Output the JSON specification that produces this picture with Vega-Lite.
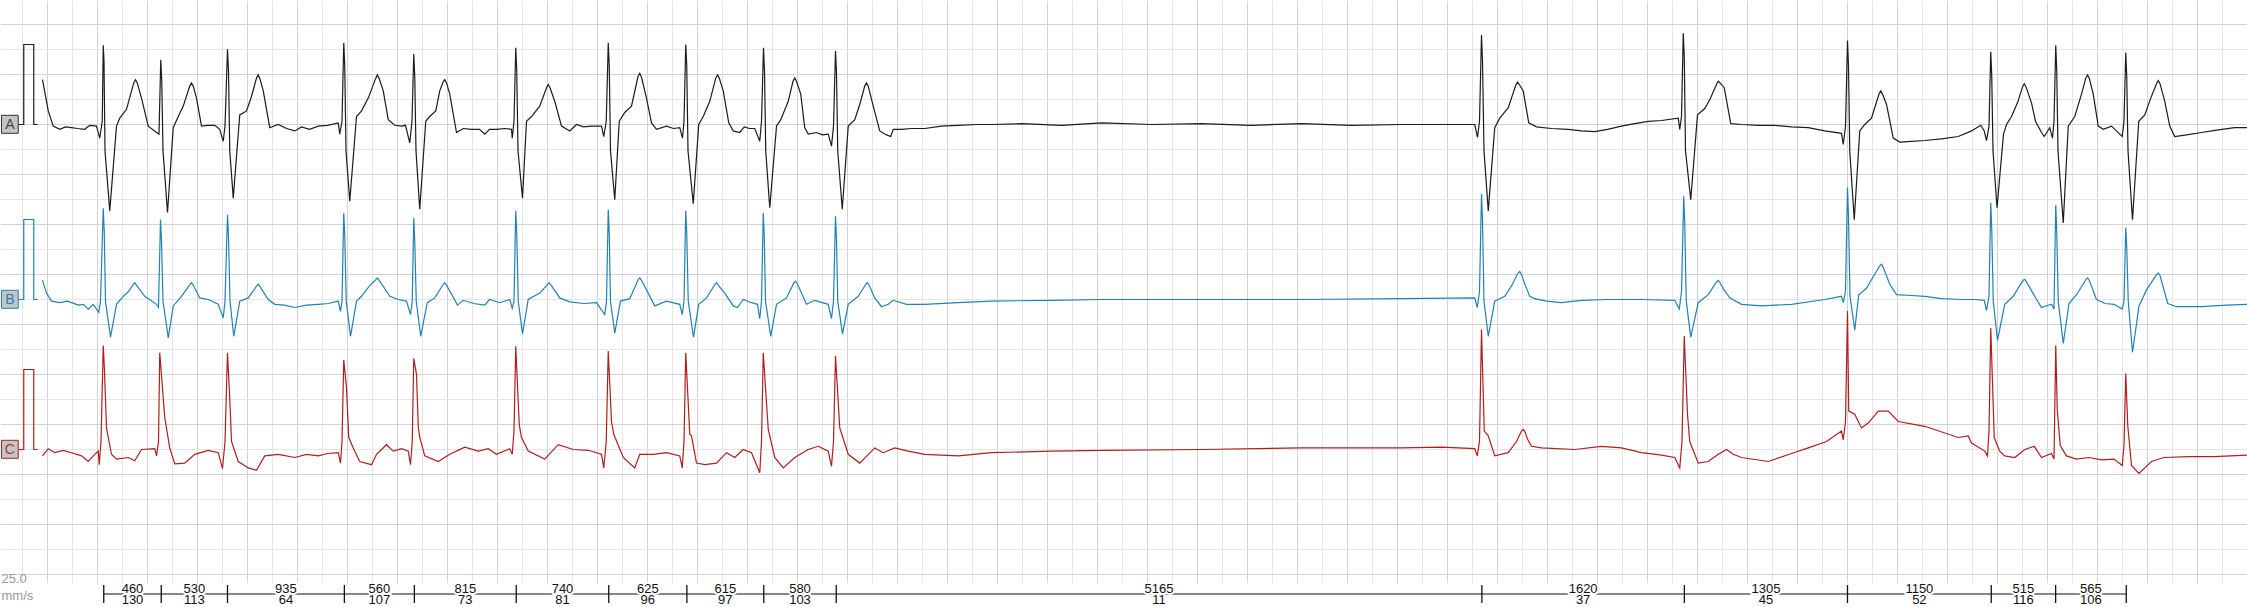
{
"$schema": "https://vega.github.io/schema/vega-lite/v6.json",
"padding": 0,
"spacing": 0,
"bounds": "flush",
"background": "white",
"config": {"view": {"stroke": null}, "font": "Liberation Sans"},
"datasets": {
"gx": [{"g":168,"k":"n"},{"g":568,"k":"n"},{"g":968,"k":"n"},{"g":1368,"k":"n"},{"g":1768,"k":"n"},{"g":2168,"k":"n"},{"g":2568,"k":"n"},{"g":2968,"k":"n"},{"g":3368,"k":"n"},{"g":3768,"k":"n"},{"g":4168,"k":"n"},{"g":4568,"k":"n"},{"g":4968,"k":"n"},{"g":5368,"k":"n"},{"g":5768,"k":"n"},{"g":6168,"k":"n"},{"g":6568,"k":"n"},{"g":6968,"k":"n"},{"g":7368,"k":"n"},{"g":7768,"k":"n"},{"g":8168,"k":"n"},{"g":8568,"k":"n"},{"g":8968,"k":"n"},{"g":9368,"k":"n"},{"g":9768,"k":"n"},{"g":10168,"k":"n"},{"g":10568,"k":"n"},{"g":10968,"k":"n"},{"g":11368,"k":"n"},{"g":11768,"k":"n"},{"g":12168,"k":"n"},{"g":12568,"k":"n"},{"g":12968,"k":"n"},{"g":13368,"k":"n"},{"g":13768,"k":"n"},{"g":14168,"k":"n"},{"g":14568,"k":"n"},{"g":14968,"k":"n"},{"g":15368,"k":"n"},{"g":15768,"k":"n"},{"g":16168,"k":"n"},{"g":16568,"k":"n"},{"g":16968,"k":"n"},{"g":17368,"k":"n"},{"g":17768,"k":"n"},
{"g":368,"k":"M"},{"g":768,"k":"M"},{"g":1168,"k":"M"},{"g":1568,"k":"M"},{"g":1968,"k":"M"},{"g":2368,"k":"M"},{"g":2768,"k":"M"},{"g":3168,"k":"M"},{"g":3568,"k":"M"},{"g":3968,"k":"M"},{"g":4368,"k":"M"},{"g":4768,"k":"M"},{"g":5168,"k":"M"},{"g":5568,"k":"M"},{"g":5968,"k":"M"},{"g":6368,"k":"M"},{"g":6768,"k":"M"},{"g":7168,"k":"M"},{"g":7568,"k":"M"},{"g":7968,"k":"M"},{"g":8368,"k":"M"},{"g":8768,"k":"M"},{"g":9168,"k":"M"},{"g":9568,"k":"M"},{"g":9968,"k":"M"},{"g":10368,"k":"M"},{"g":10768,"k":"M"},{"g":11168,"k":"M"},{"g":11568,"k":"M"},{"g":11968,"k":"M"},{"g":12368,"k":"M"},{"g":12768,"k":"M"},{"g":13168,"k":"M"},{"g":13568,"k":"M"},{"g":13968,"k":"M"},{"g":14368,"k":"M"},{"g":14768,"k":"M"},{"g":15168,"k":"M"},{"g":15568,"k":"M"},{"g":15968,"k":"M"},{"g":16368,"k":"M"},{"g":16768,"k":"M"},{"g":17168,"k":"M"},{"g":17568,"k":"M"},{"g":17968,"k":"M"}],
"gy": [{"g":0.9375,"k":"n"},{"g":0.3125,"k":"n"},{"g":-0.3125,"k":"n"},{"g":-0.9375,"k":"n"},{"g":-1.5625,"k":"n"},{"g":-2.1875,"k":"n"},{"g":-2.8125,"k":"n"},{"g":-3.4375,"k":"n"},{"g":-4.0625,"k":"n"},{"g":-4.6875,"k":"n"},{"g":-5.3125,"k":"n"},
{"g":1.25,"k":"M"},{"g":0.625,"k":"M"},{"g":0,"k":"M"},{"g":-0.625,"k":"M"},{"g":-1.25,"k":"M"},{"g":-1.875,"k":"M"},{"g":-2.5,"k":"M"},{"g":-3.125,"k":"M"},{"g":-3.75,"k":"M"},{"g":-4.375,"k":"M"},{"g":-5,"k":"M"},{"g":-5.625,"k":"M"}],
"A": [{"t":140,"v":0,"s":"c"},{"t":178,"v":0,"s":"c"},{"t":178,"v":1,"s":"c"},{"t":258,"v":1,"s":"c"},{"t":258,"v":0,"s":"c"},{"t":288,"v":0,"s":"c"},
{"t":328,"v":0.56},{"t":374,"v":0.17},{"t":414,"v":-0.02},{"t":466,"v":-0.06},{"t":512,"v":-0.03},{"t":560,"v":-0.04},{"t":608,"v":-0.05},{"t":666,"v":-0.06},{"t":706,"v":-0.01},{"t":760,"v":-0.02},{"t":786,"v":-0.17},{"t":806,"v":0.04},{"t":814,"v":0.99},{"t":820,"v":0.79},{"t":828,"v":-0.33},{"t":866,"v":-1.08},{"t":920,"v":-0.02},{"t":946,"v":0.08},{"t":1000,"v":0.19},{"t":1058,"v":0.52},{"t":1072,"v":0.56},{"t":1086,"v":0.52},{"t":1120,"v":0.33},{"t":1174,"v":-0.02},{"t":1240,"v":-0.1},{"t":1260,"v":-0.12},
{"t":1274,"v":0.81},{"t":1282,"v":0.54},{"t":1292,"v":-0.33},{"t":1328,"v":-1.1},{"t":1374,"v":-0.04},{"t":1414,"v":0.1},{"t":1454,"v":0.23},{"t":1506,"v":0.48},{"t":1520,"v":0.52},{"t":1534,"v":0.48},{"t":1560,"v":0.33},{"t":1600,"v":-0.02},{"t":1648,"v":-0.01},{"t":1706,"v":-0.01},{"t":1746,"v":-0.06},{"t":1774,"v":-0.21},{"t":1788,"v":-0.02},
{"t":1808,"v":0.94},{"t":1816,"v":0.67},{"t":1826,"v":-0.33},{"t":1854,"v":-0.92},{"t":1906,"v":0.12},{"t":1960,"v":0.17},{"t":2000,"v":0.35},{"t":2040,"v":0.58},{"t":2054,"v":0.62},{"t":2068,"v":0.57},{"t":2094,"v":0.42},{"t":2146,"v":-0.04},{"t":2214,"v":0},{"t":2280,"v":-0.05},{"t":2346,"v":-0.08},{"t":2400,"v":-0.03},{"t":2464,"v":-0.06},{"t":2534,"v":-0.02},{"t":2608,"v":-0.01},{"t":2694,"v":0.02},{"t":2706,"v":-0.12},{"t":2724,"v":0.04},
{"t":2738,"v":1.02},{"t":2746,"v":0.73},{"t":2756,"v":-0.33},{"t":2786,"v":-0.96},{"t":2840,"v":0.1},{"t":2880,"v":0.17},{"t":2934,"v":0.33},{"t":2992,"v":0.57},{"t":3006,"v":0.62},{"t":3020,"v":0.58},{"t":3054,"v":0.42},{"t":3094,"v":0.06},{"t":3146,"v":-0.01},{"t":3200,"v":-0.02},{"t":3232,"v":-0.01},{"t":3266,"v":-0.23},{"t":3284,"v":0.04},
{"t":3298,"v":0.88},{"t":3306,"v":0.6},{"t":3316,"v":-0.33},{"t":3346,"v":-1.06},{"t":3394,"v":0.04},{"t":3426,"v":0.1},{"t":3474,"v":0.17},{"t":3506,"v":0.42},{"t":3532,"v":0.53},{"t":3546,"v":0.56},{"t":3560,"v":0.52},{"t":3586,"v":0.38},{"t":3640,"v":-0.1},{"t":3694,"v":-0.05},{"t":3760,"v":-0.06},{"t":3824,"v":-0.06},{"t":3866,"v":-0.12},{"t":3904,"v":-0.06},{"t":3960,"v":-0.06},{"t":4024,"v":-0.05},{"t":4080,"v":-0.06},{"t":4086,"v":-0.17},{"t":4100,"v":0.04},
{"t":4114,"v":0.96},{"t":4122,"v":0.67},{"t":4132,"v":-0.33},{"t":4168,"v":-0.92},{"t":4200,"v":0.04},{"t":4240,"v":0.1},{"t":4306,"v":0.23},{"t":4360,"v":0.46},{"t":4374,"v":0.5},{"t":4388,"v":0.46},{"t":4426,"v":0.29},{"t":4480,"v":-0.02},{"t":4546,"v":-0.08},{"t":4600,"v":0},{"t":4656,"v":-0.03},{"t":4720,"v":-0.02},{"t":4800,"v":-0.02},{"t":4818,"v":-0.15},{"t":4838,"v":0.04},
{"t":4854,"v":1.02},{"t":4862,"v":0.73},{"t":4872,"v":-0.33},{"t":4906,"v":-0.94},{"t":4942,"v":0.04},{"t":4986,"v":0.15},{"t":5040,"v":0.23},{"t":5092,"v":0.6},{"t":5106,"v":0.64},{"t":5120,"v":0.59},{"t":5160,"v":0.33},{"t":5200,"v":0.02},{"t":5240,"v":-0.06},{"t":5320,"v":-0.02},{"t":5376,"v":-0.05},{"t":5426,"v":-0.04},{"t":5448,"v":-0.17},{"t":5460,"v":0.04},
{"t":5474,"v":1.0},{"t":5482,"v":0.73},{"t":5492,"v":-0.33},{"t":5534,"v":-0.99},{"t":5578,"v":0},{"t":5614,"v":0.1},{"t":5666,"v":0.29},{"t":5714,"v":0.58},{"t":5728,"v":0.62},{"t":5742,"v":0.58},{"t":5774,"v":0.42},{"t":5818,"v":0.02},{"t":5854,"v":-0.08},{"t":5906,"v":-0.1},{"t":5942,"v":-0.03},{"t":5984,"v":-0.05},{"t":6026,"v":-0.05},{"t":6066,"v":-0.21},{"t":6080,"v":0.04},
{"t":6096,"v":0.96},{"t":6104,"v":0.67},{"t":6114,"v":-0.33},{"t":6146,"v":-1.04},{"t":6200,"v":-0.02},{"t":6234,"v":0.06},{"t":6294,"v":0.29},{"t":6332,"v":0.54},{"t":6346,"v":0.58},{"t":6360,"v":0.54},{"t":6394,"v":0.38},{"t":6426,"v":-0.04},{"t":6454,"v":-0.12},{"t":6520,"v":-0.1},{"t":6568,"v":-0.13},{"t":6614,"v":-0.12},{"t":6640,"v":-0.27},{"t":6656,"v":-0.02},
{"t":6672,"v":0.92},{"t":6680,"v":0.64},{"t":6690,"v":-0.33},{"t":6726,"v":-1.06},{"t":6774,"v":-0.02},{"t":6826,"v":0.06},{"t":6866,"v":0.25},{"t":6906,"v":0.48},{"t":6920,"v":0.52},{"t":6934,"v":0.48},{"t":6974,"v":0.23},{"t":7026,"v":-0.08},{"t":7080,"v":-0.13},{"t":7114,"v":-0.15},{"t":7134,"v":-0.06},{"t":7200,"v":-0.06},{"t":7280,"v":-0.05},{"t":7386,"v":-0.05},{"t":7520,"v":-0.02},{"t":7654,"v":-0.01},{"t":7800,"v":0},{"t":7920,"v":0},{"t":8160,"v":0.01},{"t":8480,"v":-0.01},{"t":8800,"v":0.02},{"t":9200,"v":0},{"t":9600,"v":0.01},{"t":10000,"v":-0.01},{"t":10400,"v":0.01},{"t":10800,"v":-0.01},{"t":11200,"v":0},{"t":11520,"v":0},{"t":11786,"v":0},{"t":11808,"v":-0.16},{"t":11824,"v":0.04},
{"t":11840,"v":1.12},{"t":11848,"v":0.79},{"t":11860,"v":-0.33},{"t":11894,"v":-1.08},{"t":11946,"v":-0.04},{"t":11986,"v":0.08},{"t":12054,"v":0.21},{"t":12114,"v":0.49},{"t":12128,"v":0.53},{"t":12142,"v":0.5},{"t":12174,"v":0.42},{"t":12218,"v":0.02},{"t":12280,"v":-0.03},{"t":12400,"v":-0.05},{"t":12534,"v":-0.06},{"t":12640,"v":-0.08},{"t":12746,"v":-0.09},{"t":12848,"v":-0.06},{"t":12960,"v":-0.02},{"t":13064,"v":0.01},{"t":13174,"v":0.04},{"t":13280,"v":0.05},{"t":13414,"v":0.08},{"t":13426,"v":-0.06},{"t":13440,"v":0.1},
{"t":13454,"v":1.14},{"t":13462,"v":0.85},{"t":13472,"v":-0.33},{"t":13514,"v":-0.94},{"t":13568,"v":0.12},{"t":13626,"v":0.2},{"t":13666,"v":0.31},{"t":13720,"v":0.5},{"t":13734,"v":0.54},{"t":13748,"v":0.52},{"t":13782,"v":0.46},{"t":13834,"v":0.01},{"t":13920,"v":0},{"t":14056,"v":-0.01},{"t":14186,"v":-0.01},{"t":14320,"v":-0.03},{"t":14454,"v":-0.04},{"t":14586,"v":-0.08},{"t":14720,"v":-0.11},{"t":14734,"v":-0.25},{"t":14752,"v":-0.02},
{"t":14768,"v":1.05},{"t":14776,"v":0.73},{"t":14786,"v":-0.33},{"t":14822,"v":-1.19},{"t":14866,"v":-0.08},{"t":14906,"v":0},{"t":14960,"v":0.08},{"t":15020,"v":0.38},{"t":15034,"v":0.42},{"t":15048,"v":0.38},{"t":15080,"v":0.25},{"t":15134,"v":-0.17},{"t":15186,"v":-0.22},{"t":15280,"v":-0.21},{"t":15386,"v":-0.2},{"t":15520,"v":-0.18},{"t":15654,"v":-0.15},{"t":15760,"v":-0.08},{"t":15834,"v":-0.01},{"t":15862,"v":-0.08},{"t":15880,"v":-0.2},{"t":15900,"v":-0.02},
{"t":15914,"v":0.91},{"t":15922,"v":0.6},{"t":15932,"v":-0.33},{"t":15964,"v":-1.04},{"t":16016,"v":-0.12},{"t":16040,"v":0},{"t":16080,"v":0.1},{"t":16130,"v":0.28},{"t":16168,"v":0.47},{"t":16182,"v":0.51},{"t":16196,"v":0.47},{"t":16240,"v":0.27},{"t":16272,"v":0.04},{"t":16320,"v":-0.1},{"t":16342,"v":-0.15},{"t":16386,"v":-0.04},{"t":16408,"v":-0.17},{"t":16420,"v":0.04},
{"t":16434,"v":0.99},{"t":16442,"v":0.67},{"t":16452,"v":-0.33},{"t":16494,"v":-1.23},{"t":16534,"v":-0.02},{"t":16586,"v":0.1},{"t":16640,"v":0.38},{"t":16674,"v":0.58},{"t":16688,"v":0.62},{"t":16702,"v":0.58},{"t":16734,"v":0.38},{"t":16774,"v":-0.02},{"t":16814,"v":-0.06},{"t":16880,"v":-0.02},{"t":16946,"v":-0.12},{"t":16966,"v":-0.15},{"t":16980,"v":0.04},
{"t":16994,"v":0.9},{"t":17002,"v":0.6},{"t":17012,"v":-0.33},{"t":17048,"v":-1.19},{"t":17098,"v":0.04},{"t":17146,"v":0.12},{"t":17194,"v":0.33},{"t":17240,"v":0.51},{"t":17254,"v":0.55},{"t":17268,"v":0.51},{"t":17306,"v":0.29},{"t":17346,"v":-0.02},{"t":17386,"v":-0.15},{"t":17480,"v":-0.13},{"t":17600,"v":-0.1},{"t":17720,"v":-0.07},{"t":17866,"v":-0.04},{"t":17976,"v":-0.04}],
"B": [{"t":140,"v":0,"s":"c"},{"t":178,"v":0,"s":"c"},{"t":178,"v":1,"s":"c"},{"t":258,"v":1,"s":"c"},{"t":258,"v":0,"s":"c"},{"t":288,"v":0,"s":"c"},
{"t":328,"v":0.24},{"t":360,"v":0.08},{"t":400,"v":-0.02},{"t":466,"v":-0.04},{"t":528,"v":-0.02},{"t":614,"v":-0.07},{"t":656,"v":-0.06},{"t":694,"v":-0.12},{"t":734,"v":-0.06},{"t":778,"v":-0.16},{"t":792,"v":-0.02},{"t":814,"v":1.14},{"t":822,"v":0.85},{"t":832,"v":-0.02},{"t":872,"v":-0.47},{"t":920,"v":-0.06},{"t":974,"v":0.04},{"t":1016,"v":0.1},{"t":1054,"v":0.19},{"t":1066,"v":0.21},{"t":1080,"v":0.18},{"t":1146,"v":0.04},{"t":1240,"v":-0.06},{"t":1256,"v":-0.1},
{"t":1272,"v":1.0},{"t":1280,"v":0.73},{"t":1292,"v":-0.02},{"t":1334,"v":-0.48},{"t":1374,"v":-0.08},{"t":1440,"v":0.04},{"t":1508,"v":0.19},{"t":1520,"v":0.21},{"t":1534,"v":0.18},{"t":1586,"v":0.02},{"t":1654,"v":0},{"t":1734,"v":-0.06},{"t":1774,"v":-0.23},{"t":1788,"v":-0.02},
{"t":1808,"v":1.06},{"t":1816,"v":0.79},{"t":1828,"v":-0.02},{"t":1858,"v":-0.46},{"t":1906,"v":-0.02},{"t":1974,"v":0.02},{"t":2042,"v":0.17},{"t":2054,"v":0.19},{"t":2068,"v":0.16},{"t":2134,"v":0},{"t":2186,"v":-0.06},{"t":2264,"v":-0.07},{"t":2346,"v":-0.1},{"t":2440,"v":-0.07},{"t":2534,"v":-0.06},{"t":2616,"v":-0.05},{"t":2694,"v":-0.02},{"t":2712,"v":-0.15},{"t":2724,"v":-0.02},
{"t":2738,"v":1.08},{"t":2746,"v":0.79},{"t":2758,"v":-0.02},{"t":2792,"v":-0.46},{"t":2840,"v":-0.02},{"t":2880,"v":0.04},{"t":2944,"v":0.17},{"t":2996,"v":0.25},{"t":3008,"v":0.27},{"t":3022,"v":0.24},{"t":3106,"v":0.04},{"t":3174,"v":0},{"t":3240,"v":-0.02},{"t":3272,"v":-0.19},{"t":3286,"v":-0.02},
{"t":3298,"v":1.02},{"t":3306,"v":0.73},{"t":3318,"v":-0.02},{"t":3354,"v":-0.46},{"t":3406,"v":-0.04},{"t":3466,"v":0.02},{"t":3534,"v":0.19},{"t":3546,"v":0.21},{"t":3560,"v":0.18},{"t":3648,"v":-0.07},{"t":3694,"v":-0.01},{"t":3776,"v":-0.05},{"t":3866,"v":-0.07},{"t":3904,"v":0},{"t":3986,"v":-0.04},{"t":4066,"v":0},{"t":4086,"v":-0.11},{"t":4100,"v":-0.02},
{"t":4114,"v":1.11},{"t":4122,"v":0.83},{"t":4134,"v":-0.02},{"t":4168,"v":-0.43},{"t":4214,"v":0},{"t":4306,"v":0.08},{"t":4370,"v":0.19},{"t":4382,"v":0.21},{"t":4396,"v":0.18},{"t":4466,"v":0.02},{"t":4546,"v":-0.03},{"t":4656,"v":-0.05},{"t":4760,"v":-0.04},{"t":4826,"v":-0.19},{"t":4840,"v":-0.02},
{"t":4854,"v":1.12},{"t":4862,"v":0.83},{"t":4872,"v":-0.02},{"t":4906,"v":-0.42},{"t":4952,"v":-0.02},{"t":5026,"v":0.01},{"t":5094,"v":0.25},{"t":5106,"v":0.27},{"t":5120,"v":0.24},{"t":5226,"v":-0.08},{"t":5320,"v":-0.02},{"t":5426,"v":-0.06},{"t":5446,"v":-0.19},{"t":5460,"v":-0.02},
{"t":5474,"v":1.11},{"t":5482,"v":0.83},{"t":5494,"v":-0.02},{"t":5536,"v":-0.47},{"t":5578,"v":-0.06},{"t":5640,"v":0.02},{"t":5708,"v":0.19},{"t":5720,"v":0.21},{"t":5734,"v":0.18},{"t":5786,"v":0.08},{"t":5854,"v":-0.08},{"t":5888,"v":-0.1},{"t":5934,"v":0},{"t":6000,"v":-0.04},{"t":6048,"v":-0.06},{"t":6066,"v":-0.24},{"t":6080,"v":-0.02},
{"t":6094,"v":1.08},{"t":6102,"v":0.79},{"t":6112,"v":-0.02},{"t":6154,"v":-0.46},{"t":6200,"v":-0.06},{"t":6280,"v":0.02},{"t":6340,"v":0.21},{"t":6352,"v":0.23},{"t":6366,"v":0.2},{"t":6440,"v":-0.06},{"t":6506,"v":-0.01},{"t":6614,"v":-0.06},{"t":6640,"v":-0.24},{"t":6656,"v":-0.02},
{"t":6672,"v":1.04},{"t":6680,"v":0.75},{"t":6690,"v":-0.02},{"t":6728,"v":-0.43},{"t":6774,"v":-0.06},{"t":6854,"v":0.04},{"t":6914,"v":0.19},{"t":6926,"v":0.21},{"t":6940,"v":0.18},{"t":6986,"v":0.02},{"t":7040,"v":-0.09},{"t":7094,"v":-0.06},{"t":7134,"v":-0.01},{"t":7240,"v":-0.06},{"t":7386,"v":-0.06},{"t":7654,"v":-0.04},{"t":7920,"v":-0.02},{"t":8400,"v":-0.01},{"t":8800,"v":0},{"t":9600,"v":0},{"t":10400,"v":0},{"t":11200,"v":0.01},{"t":11786,"v":0.02},{"t":11806,"v":-0.1},{"t":11824,"v":0.1},
{"t":11840,"v":1.32},{"t":11848,"v":0.98},{"t":11860,"v":-0.02},{"t":11894,"v":-0.46},{"t":11946,"v":-0.02},{"t":12026,"v":0.04},{"t":12080,"v":0.17},{"t":12132,"v":0.33},{"t":12146,"v":0.35},{"t":12160,"v":0.31},{"t":12192,"v":0.17},{"t":12226,"v":0.04},{"t":12266,"v":0.01},{"t":12360,"v":-0.02},{"t":12480,"v":-0.04},{"t":12640,"v":-0.01},{"t":12854,"v":0},{"t":13120,"v":0},{"t":13386,"v":-0.01},{"t":13422,"v":-0.12},{"t":13440,"v":0.1},
{"t":13458,"v":1.29},{"t":13466,"v":0.95},{"t":13478,"v":-0.02},{"t":13514,"v":-0.47},{"t":13574,"v":-0.04},{"t":13654,"v":0.06},{"t":13720,"v":0.22},{"t":13734,"v":0.24},{"t":13748,"v":0.21},{"t":13776,"v":0.13},{"t":13826,"v":0.02},{"t":13920,"v":-0.06},{"t":14080,"v":-0.08},{"t":14320,"v":-0.06},{"t":14586,"v":0},{"t":14720,"v":0.04},{"t":14734,"v":-0.04},{"t":14752,"v":0.1},
{"t":14768,"v":1.4},{"t":14776,"v":1.04},{"t":14788,"v":0.04},{"t":14826,"v":-0.38},{"t":14858,"v":0.06},{"t":14920,"v":0.14},{"t":14976,"v":0.29},{"t":15026,"v":0.42},{"t":15040,"v":0.44},{"t":15054,"v":0.4},{"t":15106,"v":0.19},{"t":15160,"v":0.06},{"t":15280,"v":0.05},{"t":15386,"v":0.04},{"t":15520,"v":0.01},{"t":15680,"v":0},{"t":15786,"v":0},{"t":15862,"v":-0.01},{"t":15880,"v":-0.14},{"t":15900,"v":0.04},
{"t":15914,"v":1.21},{"t":15922,"v":0.88},{"t":15934,"v":-0.02},{"t":15968,"v":-0.51},{"t":16026,"v":-0.06},{"t":16094,"v":0.04},{"t":16144,"v":0.17},{"t":16174,"v":0.24},{"t":16186,"v":0.25},{"t":16200,"v":0.22},{"t":16266,"v":0.04},{"t":16320,"v":-0.1},{"t":16400,"v":-0.06},{"t":16420,"v":-0.12},
{"t":16434,"v":1.18},{"t":16442,"v":0.85},{"t":16454,"v":-0.02},{"t":16494,"v":-0.55},{"t":16540,"v":-0.05},{"t":16600,"v":0.06},{"t":16676,"v":0.25},{"t":16688,"v":0.27},{"t":16702,"v":0.24},{"t":16760,"v":0.0},{"t":16830,"v":-0.05},{"t":16900,"v":-0.06},{"t":16966,"v":-0.12},{"t":16980,"v":-0.02},
{"t":16994,"v":0.9},{"t":17002,"v":0.65},{"t":17014,"v":-0.02},{"t":17048,"v":-0.66},{"t":17100,"v":-0.08},{"t":17160,"v":0.12},{"t":17240,"v":0.31},{"t":17254,"v":0.33},{"t":17268,"v":0.3},{"t":17330,"v":-0.05},{"t":17400,"v":-0.09},{"t":17600,"v":-0.09},{"t":17800,"v":-0.07},{"t":17976,"v":-0.06}],
"C": [{"t":140,"v":0,"s":"c"},{"t":178,"v":0,"s":"c"},{"t":178,"v":1,"s":"c"},{"t":258,"v":1,"s":"c"},{"t":258,"v":0,"s":"c"},{"t":288,"v":0,"s":"c"},
{"t":328,"v":-0.08},{"t":374,"v":0.01},{"t":426,"v":-0.04},{"t":494,"v":-0.01},{"t":560,"v":-0.04},{"t":640,"v":-0.08},{"t":694,"v":-0.15},{"t":734,"v":-0.08},{"t":774,"v":-0.02},{"t":782,"v":-0.19},{"t":796,"v":0.1},{"t":814,"v":1.3},{"t":824,"v":0.98},{"t":840,"v":0.27},{"t":854,"v":0.15},{"t":880,"v":-0.06},{"t":920,"v":-0.12},{"t":1014,"v":-0.1},{"t":1066,"v":-0.14},{"t":1120,"v":0},{"t":1226,"v":0.01},{"t":1240,"v":-0.08},{"t":1256,"v":0.1},
{"t":1266,"v":1.21},{"t":1294,"v":0.64},{"t":1306,"v":0.4},{"t":1346,"v":0.02},{"t":1386,"v":-0.18},{"t":1466,"v":-0.17},{"t":1546,"v":-0.06},{"t":1654,"v":-0.01},{"t":1734,"v":-0.04},{"t":1768,"v":-0.24},{"t":1788,"v":0.1},
{"t":1808,"v":1.21},{"t":1826,"v":0.64},{"t":1840,"v":0.1},{"t":1894,"v":-0.15},{"t":1974,"v":-0.23},{"t":2040,"v":-0.26},{"t":2106,"v":-0.08},{"t":2214,"v":-0.06},{"t":2346,"v":-0.1},{"t":2440,"v":-0.06},{"t":2534,"v":-0.08},{"t":2608,"v":-0.05},{"t":2694,"v":-0.04},{"t":2712,"v":-0.17},{"t":2724,"v":0.1},
{"t":2738,"v":1.12},{"t":2760,"v":0.77},{"t":2778,"v":0.15},{"t":2814,"v":0.02},{"t":2866,"v":-0.15},{"t":2960,"v":-0.19},{"t":3000,"v":-0.06},{"t":3080,"v":0.06},{"t":3134,"v":-0.02},{"t":3200,"v":0.01},{"t":3254,"v":-0.02},{"t":3272,"v":-0.19},{"t":3286,"v":0.1},
{"t":3298,"v":1.14},{"t":3320,"v":0.94},{"t":3334,"v":0.29},{"t":3346,"v":0.15},{"t":3386,"v":-0.08},{"t":3494,"v":-0.15},{"t":3586,"v":-0.06},{"t":3706,"v":0.03},{"t":3814,"v":-0.02},{"t":3894,"v":0.01},{"t":3960,"v":-0.06},{"t":4066,"v":0.01},{"t":4086,"v":-0.06},{"t":4100,"v":0.23},
{"t":4114,"v":1.29},{"t":4142,"v":0.31},{"t":4160,"v":0.15},{"t":4214,"v":-0.02},{"t":4346,"v":-0.12},{"t":4454,"v":0.06},{"t":4574,"v":0},{"t":4694,"v":-0.01},{"t":4800,"v":-0.06},{"t":4818,"v":-0.23},{"t":4838,"v":0.1},
{"t":4854,"v":1.23},{"t":4880,"v":0.35},{"t":4898,"v":0.19},{"t":4974,"v":-0.1},{"t":5066,"v":-0.23},{"t":5106,"v":-0.06},{"t":5214,"v":-0.06},{"t":5320,"v":-0.04},{"t":5426,"v":-0.08},{"t":5446,"v":-0.23},{"t":5460,"v":0.1},
{"t":5474,"v":1.21},{"t":5506,"v":0.19},{"t":5520,"v":0.17},{"t":5560,"v":-0.17},{"t":5626,"v":-0.19},{"t":5720,"v":-0.17},{"t":5800,"v":-0.04},{"t":5866,"v":-0.1},{"t":5934,"v":0},{"t":6000,"v":-0.04},{"t":6066,"v":-0.29},{"t":6080,"v":0.1},
{"t":6094,"v":1.21},{"t":6134,"v":0.25},{"t":6186,"v":-0.1},{"t":6254,"v":-0.23},{"t":6346,"v":-0.1},{"t":6454,"v":0},{"t":6534,"v":0.04},{"t":6614,"v":-0.02},{"t":6640,"v":-0.21},{"t":6656,"v":0.1},
{"t":6672,"v":1.17},{"t":6706,"v":0.27},{"t":6774,"v":-0.06},{"t":6866,"v":-0.17},{"t":6986,"v":0.02},{"t":7054,"v":-0.04},{"t":7146,"v":0.02},{"t":7254,"v":-0.02},{"t":7386,"v":-0.06},{"t":7654,"v":-0.08},{"t":7920,"v":-0.04},{"t":8400,"v":-0.02},{"t":8800,"v":-0.01},{"t":9600,"v":0},{"t":10400,"v":0.02},{"t":11200,"v":0.02},{"t":11520,"v":0.03},{"t":11786,"v":0.01},{"t":11806,"v":-0.08},{"t":11824,"v":0.1},
{"t":11840,"v":1.5},{"t":11862,"v":0.23},{"t":11894,"v":0.17},{"t":11946,"v":-0.08},{"t":12054,"v":-0.04},{"t":12120,"v":0.1},{"t":12160,"v":0.23},{"t":12174,"v":0.25},{"t":12188,"v":0.22},{"t":12208,"v":0.13},{"t":12240,"v":0.04},{"t":12320,"v":0.02},{"t":12586,"v":0},{"t":12800,"v":0.04},{"t":12960,"v":0.02},{"t":13120,"v":-0.04},{"t":13280,"v":-0.07},{"t":13386,"v":-0.1},{"t":13426,"v":-0.23},{"t":13444,"v":0.1},
{"t":13462,"v":1.42},{"t":13488,"v":0.44},{"t":13506,"v":0.1},{"t":13574,"v":-0.17},{"t":13654,"v":-0.15},{"t":13734,"v":-0.06},{"t":13800,"v":0},{"t":13854,"v":-0.06},{"t":13920,"v":-0.1},{"t":14134,"v":-0.15},{"t":14320,"v":-0.05},{"t":14454,"v":0.02},{"t":14600,"v":0.1},{"t":14720,"v":0.23},{"t":14734,"v":0.12},{"t":14752,"v":0.35},
{"t":14768,"v":1.73},{"t":14778,"v":0.48},{"t":14826,"v":0.44},{"t":14880,"v":0.27},{"t":14934,"v":0.33},{"t":15014,"v":0.48},{"t":15094,"v":0.48},{"t":15174,"v":0.35},{"t":15386,"v":0.29},{"t":15654,"v":0.15},{"t":15734,"v":0.17},{"t":15760,"v":0.08},{"t":15866,"v":-0.02},{"t":15888,"v":-0.08},{"t":15900,"v":0.23},
{"t":15914,"v":1.52},{"t":15942,"v":0.15},{"t":15986,"v":-0.02},{"t":16026,"v":-0.08},{"t":16106,"v":-0.1},{"t":16186,"v":0},{"t":16262,"v":0.04},{"t":16320,"v":-0.1},{"t":16400,"v":-0.05},{"t":16420,"v":-0.12},
{"t":16434,"v":1.3},{"t":16446,"v":0.5},{"t":16470,"v":0.05},{"t":16520,"v":-0.08},{"t":16600,"v":-0.12},{"t":16700,"v":-0.1},{"t":16800,"v":-0.13},{"t":16900,"v":-0.12},{"t":16966,"v":-0.2},{"t":16980,"v":0.05},
{"t":16994,"v":0.95},{"t":17010,"v":0.3},{"t":17040,"v":-0.2},{"t":17100,"v":-0.3},{"t":17200,"v":-0.15},{"t":17300,"v":-0.1},{"t":17500,"v":-0.09},{"t":17700,"v":-0.09},{"t":17976,"v":-0.07}],
"iv": [{"t0":818,"t1":1278,"mid":1048,"ms":"460","bpm":"130"},{"t0":1278,"t1":1808,"mid":1543,"ms":"530","bpm":"113"},{"t0":1808,"t1":2743,"mid":2275.5,"ms":"935","bpm":"64"},{"t0":2743,"t1":3303,"mid":3023,"ms":"560","bpm":"107"},{"t0":3303,"t1":4118,"mid":3710.5,"ms":"815","bpm":"73"},{"t0":4118,"t1":4858,"mid":4488,"ms":"740","bpm":"81"},{"t0":4858,"t1":5483,"mid":5170.5,"ms":"625","bpm":"96"},{"t0":5483,"t1":6098,"mid":5790.5,"ms":"615","bpm":"97"},{"t0":6098,"t1":6678,"mid":6388,"ms":"580","bpm":"103"},{"t0":6678,"t1":11843,"mid":9260.5,"ms":"5165","bpm":"11"},{"t0":11843,"t1":13463,"mid":12653,"ms":"1620","bpm":"37"},{"t0":13463,"t1":14768,"mid":14115.5,"ms":"1305","bpm":"45"},{"t0":14768,"t1":15918,"mid":15343,"ms":"1150","bpm":"52"},{"t0":15918,"t1":16433,"mid":16175.5,"ms":"515","bpm":"116"},{"t0":16433,"t1":16998,"mid":16715.5,"ms":"565","bpm":"106"}],
"beats": [{"t":818},{"t":1278},{"t":1808},{"t":2743},{"t":3303},{"t":4118},{"t":4858},{"t":5483},{"t":6098},{"t":6678},{"t":11843},{"t":13463},{"t":14768},{"t":15918},{"t":16433},{"t":16998}]
},
"vconcat": [
{
"width": 2247, "height": 582,
"layer": [
 {"data": {"name": "gx"},
  "mark": {"type": "rule", "strokeWidth": 1},
  "encoding": {
   "x": {"field": "g", "type": "quantitative", "scale": {"domain": [-4, 17972], "nice": false, "zero": false}, "axis": null},
   "color": {"field": "k", "type": "nominal", "scale": {"domain": ["M", "n"], "range": ["#d3d3d3", "#e6e6e6"]}, "legend": null}
  }},
 {"data": {"name": "gy"},
  "mark": {"type": "rule", "strokeWidth": 1},
  "encoding": {
   "y": {"field": "g", "type": "quantitative", "scale": {"domain": [-5.73125, 1.54375], "nice": false, "zero": false}, "axis": null},
   "color": {"field": "k", "type": "nominal", "scale": {"domain": ["M", "n"], "range": ["#d3d3d3", "#e6e6e6"]}, "legend": null}
  }},
 {"layer": [
 {"data": {"name": "A"},
  "mark": {"type": "line", "color": "#1c1c1c", "strokeWidth": 1.2, "clip": true},
  "encoding": {
   "x": {"field": "t", "type": "quantitative", "scale": {"domain": [-4, 17972], "nice": false, "zero": false}, "axis": null},
   "y": {"field": "v", "type": "quantitative", "scale": {"domain": [-5.73125, 1.54375], "nice": false, "zero": false}, "axis": null},
   "detail": {"field": "s", "type": "nominal"},
   "order": {"value": null}
  }},
 {"data": {"values": [{"lead": "A"}]},
  "mark": {"type": "rect", "fill": "#c4c4c4", "stroke": "#333333", "strokeWidth": 1},
  "encoding": {
   "x": {"datum": 0, "type": "quantitative", "scale": {"domain": [-4, 17972], "nice": false, "zero": false}, "axis": null},
   "x2": {"datum": 134},
   "y": {"datum": 0.115, "type": "quantitative", "scale": {"domain": [-5.73125, 1.54375], "nice": false, "zero": false}, "axis": null},
   "y2": {"datum": -0.11}
  }},
 {"data": {"values": [{"lead": "A"}]},
  "mark": {"type": "text", "color": "#444444", "fontSize": 14, "align": "center", "baseline": "middle"},
  "encoding": {
   "x": {"datum": 67, "type": "quantitative", "scale": {"domain": [-4, 17972], "nice": false, "zero": false}, "axis": null},
   "y": {"datum": 0, "type": "quantitative", "scale": {"domain": [-5.73125, 1.54375], "nice": false, "zero": false}, "axis": null},
   "text": {"field": "lead", "type": "nominal"}
  }}
 ]},
 {"layer": [
 {"data": {"name": "B"},
  "mark": {"type": "line", "color": "#2282b6", "strokeWidth": 1.2, "clip": true},
  "encoding": {
   "x": {"field": "t", "type": "quantitative", "scale": {"domain": [-4, 17972], "nice": false, "zero": false}, "axis": null},
   "y": {"field": "v", "type": "quantitative", "scale": {"domain": [-3.54375, 3.73125], "nice": false, "zero": false}, "axis": null},
   "detail": {"field": "s", "type": "nominal"},
   "order": {"value": null}
  }},
 {"data": {"values": [{"lead": "B"}]},
  "mark": {"type": "rect", "fill": "#c4c4c4", "stroke": "#2282b6", "strokeWidth": 1},
  "encoding": {
   "x": {"datum": 0, "type": "quantitative", "scale": {"domain": [-4, 17972], "nice": false, "zero": false}, "axis": null},
   "x2": {"datum": 134},
   "y": {"datum": 0.115, "type": "quantitative", "scale": {"domain": [-3.54375, 3.73125], "nice": false, "zero": false}, "axis": null},
   "y2": {"datum": -0.11}
  }},
 {"data": {"values": [{"lead": "B"}]},
  "mark": {"type": "text", "color": "#2a7fae", "fontSize": 14, "align": "center", "baseline": "middle"},
  "encoding": {
   "x": {"datum": 67, "type": "quantitative", "scale": {"domain": [-4, 17972], "nice": false, "zero": false}, "axis": null},
   "y": {"datum": 0, "type": "quantitative", "scale": {"domain": [-3.54375, 3.73125], "nice": false, "zero": false}, "axis": null},
   "text": {"field": "lead", "type": "nominal"}
  }}
 ]},
 {"layer": [
 {"data": {"name": "C"},
  "mark": {"type": "line", "color": "#b01e1e", "strokeWidth": 1.2, "clip": true},
  "encoding": {
   "x": {"field": "t", "type": "quantitative", "scale": {"domain": [-4, 17972], "nice": false, "zero": false}, "axis": null},
   "y": {"field": "v", "type": "quantitative", "scale": {"domain": [-1.66875, 5.60625], "nice": false, "zero": false}, "axis": null},
   "detail": {"field": "s", "type": "nominal"},
   "order": {"value": null}
  }},
 {"data": {"values": [{"lead": "C"}]},
  "mark": {"type": "rect", "fill": "#c4c4c4", "stroke": "#b01e1e", "strokeWidth": 1},
  "encoding": {
   "x": {"datum": 0, "type": "quantitative", "scale": {"domain": [-4, 17972], "nice": false, "zero": false}, "axis": null},
   "x2": {"datum": 134},
   "y": {"datum": 0.115, "type": "quantitative", "scale": {"domain": [-1.66875, 5.60625], "nice": false, "zero": false}, "axis": null},
   "y2": {"datum": -0.11}
  }},
 {"data": {"values": [{"lead": "C"}]},
  "mark": {"type": "text", "color": "#a83a3a", "fontSize": 14, "align": "center", "baseline": "middle"},
  "encoding": {
   "x": {"datum": 67, "type": "quantitative", "scale": {"domain": [-4, 17972], "nice": false, "zero": false}, "axis": null},
   "y": {"datum": 0, "type": "quantitative", "scale": {"domain": [-1.66875, 5.60625], "nice": false, "zero": false}, "axis": null},
   "text": {"field": "lead", "type": "nominal"}
  }}
 ]}
],
"resolve": {"scale": {"y": "independent", "color": "shared"}}
},
{
"width": 2247, "height": 25,
"layer": [
 {"data": {"name": "iv"},
  "mark": {"type": "rule", "color": "#111111", "strokeWidth": 1},
  "encoding": {
   "x": {"field": "t0", "type": "quantitative", "scale": {"domain": [-4, 17972], "nice": false, "zero": false}, "axis": null},
   "x2": {"field": "t1"},
   "y": {"datum": 11, "type": "quantitative", "scale": {"domain": [0, 25], "reverse": true, "nice": false, "zero": false}, "axis": null}
  }},
 {"data": {"name": "beats"},
  "mark": {"type": "rule", "color": "#111111", "strokeWidth": 1.3},
  "encoding": {
   "x": {"field": "t", "type": "quantitative", "scale": {"domain": [-4, 17972], "nice": false, "zero": false}, "axis": null},
   "y": {"datum": 2, "type": "quantitative", "scale": {"domain": [0, 25], "reverse": true, "nice": false, "zero": false}, "axis": null},
   "y2": {"datum": 20}
  }},
 {"data": {"name": "iv"},
  "mark": {"type": "text", "fontSize": 13, "stroke": "white", "strokeWidth": 4, "fill": "white", "align": "center", "baseline": "middle"},
  "encoding": {
   "x": {"field": "mid", "type": "quantitative", "scale": {"domain": [-4, 17972], "nice": false, "zero": false}, "axis": null},
   "y": {"datum": 5.5, "type": "quantitative", "scale": {"domain": [0, 25], "reverse": true, "nice": false, "zero": false}, "axis": null},
   "text": {"field": "ms", "type": "nominal"}
  }},
 {"data": {"name": "iv"},
  "mark": {"type": "text", "fontSize": 13, "stroke": "white", "strokeWidth": 4, "fill": "white", "align": "center", "baseline": "middle"},
  "encoding": {
   "x": {"field": "mid", "type": "quantitative", "scale": {"domain": [-4, 17972], "nice": false, "zero": false}, "axis": null},
   "y": {"datum": 17, "type": "quantitative", "scale": {"domain": [0, 25], "reverse": true, "nice": false, "zero": false}, "axis": null},
   "text": {"field": "bpm", "type": "nominal"}
  }},
 {"data": {"name": "iv"},
  "mark": {"type": "text", "fontSize": 13, "color": "#111111", "align": "center", "baseline": "middle"},
  "encoding": {
   "x": {"field": "mid", "type": "quantitative", "scale": {"domain": [-4, 17972], "nice": false, "zero": false}, "axis": null},
   "y": {"datum": 5.5, "type": "quantitative", "scale": {"domain": [0, 25], "reverse": true, "nice": false, "zero": false}, "axis": null},
   "text": {"field": "ms", "type": "nominal"}
  }},
 {"data": {"name": "iv"},
  "mark": {"type": "text", "fontSize": 13, "color": "#111111", "align": "center", "baseline": "middle"},
  "encoding": {
   "x": {"field": "mid", "type": "quantitative", "scale": {"domain": [-4, 17972], "nice": false, "zero": false}, "axis": null},
   "y": {"datum": 17, "type": "quantitative", "scale": {"domain": [0, 25], "reverse": true, "nice": false, "zero": false}, "axis": null},
   "text": {"field": "bpm", "type": "nominal"}
  }},
 {"data": {"values": [{"label": "25.0", "row": -4.5}, {"label": "mm/s", "row": 13}]},
  "mark": {"type": "text", "fontSize": 13, "color": "#9a9a9a", "align": "left", "baseline": "middle"},
  "encoding": {
   "x": {"datum": 0, "type": "quantitative", "scale": {"domain": [-4, 17972], "nice": false, "zero": false}, "axis": null},
   "y": {"field": "row", "type": "quantitative", "scale": {"domain": [0, 25], "reverse": true, "nice": false, "zero": false}, "axis": null},
   "text": {"field": "label", "type": "nominal"}
  }},
 {"data": {"values": [{}]},
  "mark": {"type": "rule", "color": "#b4b4b4", "strokeWidth": 1},
  "encoding": {
   "x": {"datum": -4, "type": "quantitative", "scale": {"domain": [-4, 17972], "nice": false, "zero": false}, "axis": null},
   "x2": {"datum": 17972},
   "y": {"datum": 24.5, "type": "quantitative", "scale": {"domain": [0, 25], "reverse": true, "nice": false, "zero": false}, "axis": null}
  }}
]
}
]
}
